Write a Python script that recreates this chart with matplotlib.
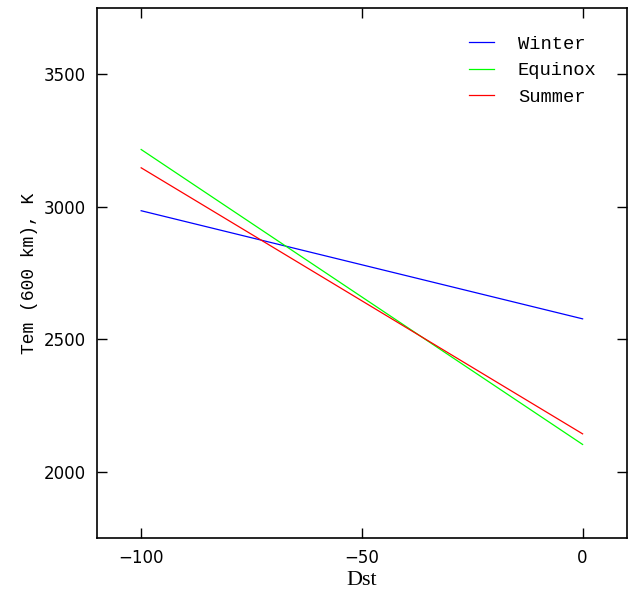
import numpy as np
import matplotlib.pyplot as plt

# Exospheric temperature at 600 km vs Dst, linear fits per season
dst = [-100, 0]
winter = [2985, 2577]
equinox = [3216, 2103]
summer = [3147, 2143]

seasons = ["Winter", "Equinox", "Summer"]
colors = ["#0000ff", "#00ff00", "#ff0000"]

fig = plt.figure(figsize=(6.28, 5.89), dpi=100)
ax = fig.add_axes([0.1545, 0.0866, 0.8435, 0.8998])

for name, vals, c in zip(seasons, [winter, equinox, summer], colors):
    ax.plot(dst, vals, color=c, lw=0.9, label=name)

ax.set_xlim(-110, 10)
ax.set_ylim(1750, 3750)
ax.set_xticks([-100, -50, 0])
ax.set_xticklabels(["\u2212100", "\u221250", "0"])
ax.set_yticks([2000, 2500, 3000, 3500])
ax.tick_params(direction="in", top=True, right=True, length=7, width=1,
               labelsize=12, pad=8)
for s in ax.spines.values():
    s.set_linewidth(1.2)

ax.set_xlabel("Dst", family="Liberation Serif", fontsize=16, labelpad=3)
ax.set_ylabel("Tem (600 km), K", family="Liberation Mono", fontsize=13, labelpad=4)

leg = ax.legend(loc="upper right", frameon=False, handlelength=1.3,
                handletextpad=1.3, labelspacing=0.5,
                prop={"family": "Liberation Mono", "size": 13.5},
                bbox_to_anchor=(0.975, 0.98))

fig.savefig("out.png", dpi=100)
